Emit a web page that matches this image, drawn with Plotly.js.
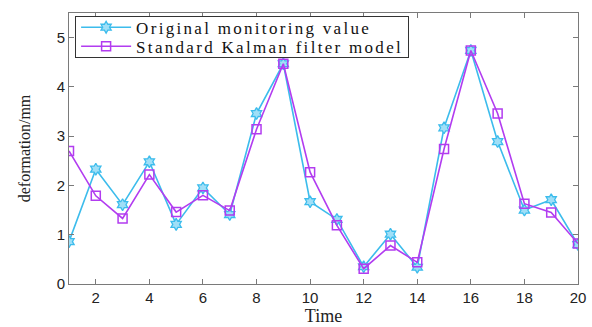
<!DOCTYPE html>
<html><head><meta charset="utf-8">
<script src="https://cdn.plot.ly/plotly-3.0.1.min.js"></script>
<style>html,body{margin:0;padding:0;background:#fff}#c{width:592px;height:327px}
.legendtext{letter-spacing:2.3px}</style>
</head><body><div id="c"></div>
<script>
const timeSteps = [1,2,3,4,5,6,7,8,9,10,11,12,13,14,15,16,17,18,19,20];
const originalValues = [0.86,2.33,1.61,2.48,1.21,1.95,1.41,3.46,4.47,1.67,1.31,0.35,1.01,0.34,3.17,4.74,2.89,1.50,1.71,0.80];
const kalmanValues = [2.70,1.79,1.33,2.22,1.46,1.80,1.49,3.14,4.47,2.27,1.19,0.31,0.78,0.44,2.74,4.74,3.46,1.63,1.45,0.82];
const xTicks = [2,4,6,8,10,12,14,16,18,20];
const yTicks = [0,1,2,3,4,5];

const serif = '"Liberation Serif", "Times New Roman", serif';
const sans = '"Liberation Sans", Arial, sans-serif';

const traces = [
  {x: timeSteps, y: originalValues, name: 'Original monitoring value', mode: 'lines+markers',
   line: {color: '#3cbcec', width: 1.6},
   marker: {symbol: 'hexagram', size: 9, color: '#9fdff7', line: {color: '#3cbcec', width: 1.3}}},
  {x: timeSteps, y: kalmanValues, name: 'Standard Kalman filter model', mode: 'lines+markers',
   line: {color: '#b23cf0', width: 1.6},
   marker: {symbol: 'square-open', size: 9, color: '#b23cf0', line: {color: '#b23cf0', width: 1.5}}}
];

const axisCommon = {showline: true, linecolor: '#7a7a7a', linewidth: 1, mirror: 'ticks', ticks: 'inside',
  ticklen: 5, tickcolor: '#7a7a7a', showgrid: false, zeroline: false,
  tickfont: {family: sans, size: 15, color: '#222'}};

const layout = {
  width: 592, height: 327,
  margin: {l: 69, r: 14, t: 13, b: 43},
  paper_bgcolor: '#fff', plot_bgcolor: '#fff',
  showlegend: true,
  legend: {x: 0.012, y: 0.99, xanchor: 'left', yanchor: 'top', bordercolor: '#333', borderwidth: 1,
    bgcolor: '#fff', font: {family: serif, size: 17, color: '#111'}, tracegroupgap: 0, itemwidth: 50},
  xaxis: Object.assign({}, axisCommon, {range: [1, 20], tickvals: xTicks,
    title: {text: 'Time', font: {family: serif, size: 18, color: '#222'}, standoff: 2}}),
  yaxis: Object.assign({}, axisCommon, {range: [0, 5.5], tickvals: yTicks,
    title: {text: 'deformation/mm', font: {family: serif, size: 16, color: '#222'}, standoff: 22}})
};

Plotly.newPlot('c', traces, layout, {displayModeBar: false, staticPlot: true}).then(function (gd) {
  // tighten legend rows to match the compact MATLAB-style legend box
  const leg = gd.querySelector('.legend');
  if (!leg) return;
  const rowCenters = [11.5, 30.5];
  leg.querySelectorAll('.traces').forEach(function (it, i) {
    const m = /translate\(\s*([-\d.e]+)[\s,]+([-\d.e]+)\s*\)/.exec(it.getAttribute('transform') || '');
    if (m && rowCenters[i] !== undefined) it.setAttribute('transform', 'translate(' + m[1] + ',' + rowCenters[i] + ')');
  });
  const bg = leg.querySelector('rect.bg');
  if (bg) bg.setAttribute('height', 41);
});
</script></body></html>
